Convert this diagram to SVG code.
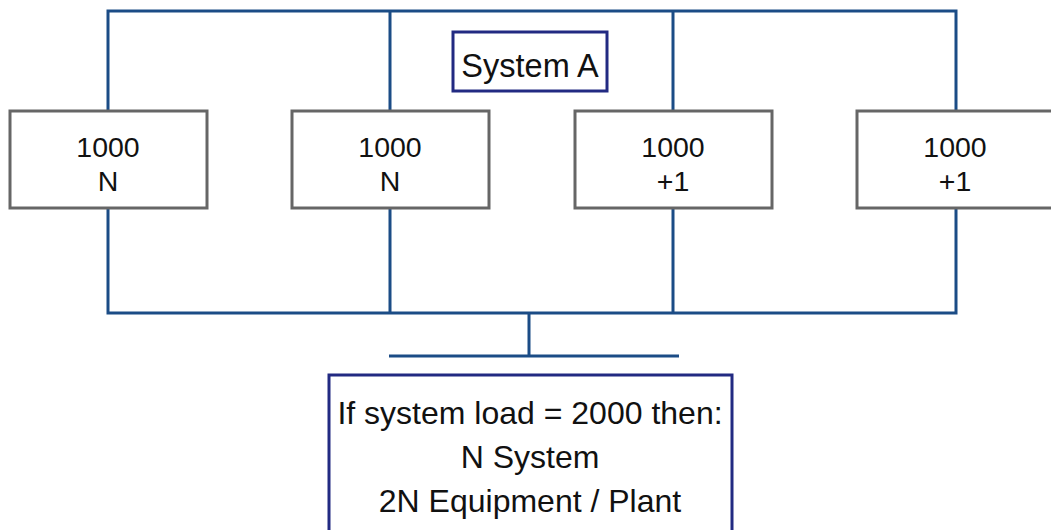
<svg xmlns="http://www.w3.org/2000/svg" width="1051" height="530" viewBox="0 0 1051 530">
<style>
.bus{fill:none;stroke:#1b4c86;stroke-width:3}
.unit{fill:#fff;stroke:#666;stroke-width:3}
.lbl{fill:#fff;stroke:#222a82;stroke-width:3}
text{font-family:"Liberation Sans",Arial,sans-serif;fill:#111;text-anchor:middle}
.t{font-size:28.5px}
.s{font-size:32.5px}
.b{font-size:32px}
</style>
<rect width="1051" height="530" fill="#fff"/>
<g id="connectors">
<path class="bus" d="M108,111 V11 H956 V111 M390,11 V111 M673,11 V111"/>
<path class="bus" d="M108,208 V313 H956 V208 M390,208 V313 M673,208 V313"/>
<path class="bus" d="M529,313 V356 M389,356 H679"/>
</g>
<g id="unit1"><rect class="unit" x="10" y="111" width="197" height="97"/><text class="t" x="108" y="157">1000</text><text class="t" x="108" y="191">N</text></g>
<g id="unit2"><rect class="unit" x="292" y="111" width="197" height="97"/><text class="t" x="390" y="157">1000</text><text class="t" x="390" y="191">N</text></g>
<g id="unit3"><rect class="unit" x="575" y="111" width="197" height="97"/><text class="t" x="673" y="157">1000</text><text class="t" x="673" y="191">+1</text></g>
<g id="unit4"><rect class="unit" x="857" y="111" width="197" height="97"/><text class="t" x="955" y="157">1000</text><text class="t" x="955" y="191">+1</text></g>
<g id="systemA"><rect class="lbl" x="453" y="32" width="154" height="59"/><text class="s" x="530" y="77">System A</text></g>
<g id="note"><rect class="lbl" x="329" y="375" width="403" height="160"/>
<text class="b" x="530" y="424">If system load = 2000 then:</text>
<text class="b" x="530" y="468">N System</text>
<text class="b" x="530" y="512">2N Equipment / Plant</text></g>
</svg>
